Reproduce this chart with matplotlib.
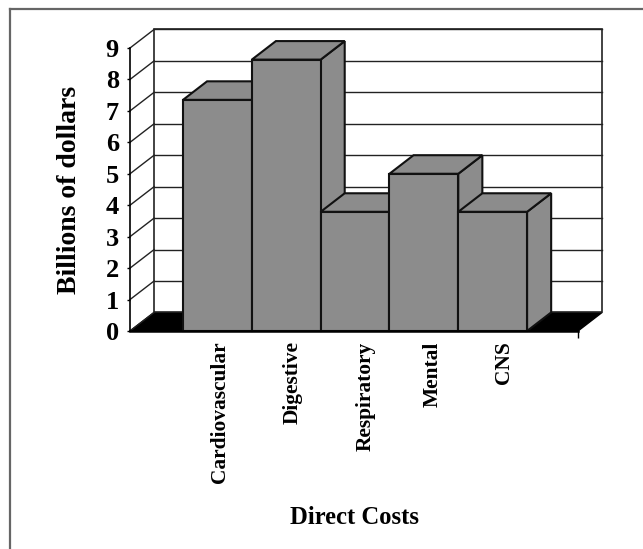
import matplotlib
matplotlib.use('Agg')
import matplotlib.pyplot as plt
from matplotlib.patches import Polygon

categories = ['Cardiovascular', 'Digestive', 'Respiratory', 'Mental', 'CNS']
costs = [7.35, 8.63, 3.79, 5.0, 3.79]
yticks = [0, 1, 2, 3, 4, 5, 6, 7, 8, 9]

W, H = 643, 549
GREY = '#8c8c8c'
# oblique depth of the fake 3d, in data units
DX = 0.35
DY = 0.59

plt.rcParams['font.family'] = ['Liberation Serif']
fig = plt.figure(figsize=(W / 100, H / 100), dpi=100)
ax = fig.add_axes([130 / W, 1 - 331 / H, 448 / W, 283 / H])
ax.set_xlim(-0.77, 5.74)
ax.set_ylim(0, 9)
xmin, xmax = ax.get_xlim()

# back wall and floor
ax.add_patch(Polygon([(xmin, 0), (xmin + DX, DY), (xmax + DX, DY), (xmax, 0)], closed=True,
                     fc='black', ec='black', lw=1, clip_on=False, zorder=1))
ax.add_patch(Polygon([(xmin + DX, DY), (xmin + DX, 9 + DY), (xmax + DX, 9 + DY), (xmax + DX, DY)],
                     closed=True, fc='white', ec='#222222', lw=1.2, clip_on=False, zorder=1))
for t in yticks[1:]:
    ax.plot([xmin, xmin + DX], [t, t + DY], color='#222222', lw=1, clip_on=False, zorder=1)
    ax.plot([xmin + DX, xmax + DX], [t + DY, t + DY], color='#222222', lw=1, clip_on=False, zorder=1)
ax.plot([xmin, xmin + DX], [0, DY], color='#222222', lw=1, clip_on=False, zorder=1)

# bars, left to right so each one hides the side of the one before
for i, v in enumerate(costs):
    side = [(i + 1, 0), (i + 1 + DX, DY), (i + 1 + DX, v + DY), (i + 1, v)]
    top = [(i, v), (i + DX, v + DY), (i + 1 + DX, v + DY), (i + 1, v)]
    front = [(i, 0), (i, v), (i + 1, v), (i + 1, 0)]
    z = 2 + i * 0.1
    for pts in (side, top, front):
        ax.add_patch(Polygon(pts, closed=True, fc=GREY, ec='#111111', lw=1.5,
                             clip_on=False, zorder=z))

for s in ('top', 'right'):
    ax.spines[s].set_visible(False)
ax.spines['left'].set_linewidth(1.2)
ax.spines['bottom'].set_linewidth(1.8)
ax.spines['left'].set_zorder(5)
ax.spines['bottom'].set_zorder(5)

ax.set_yticks(yticks)
ax.set_yticklabels([str(t) for t in yticks], fontsize=19, fontweight='bold')
ax.tick_params(axis='y', length=2, width=1, pad=6)

# labels sit a bit right of the bar centres in the original
ax.set_xticks([i + 0.5 + o for i, o in enumerate([0.04, 0.09, 0.16, 0.13, 0.16])])
ax.set_xticklabels(categories, rotation=90, fontsize=15.4, fontweight='bold')
ax.tick_params(axis='x', length=0, pad=7.5)
ax.set_xticks([xmax], minor=True)
ax.tick_params(axis='x', which='minor', length=5, width=1)

ax.set_ylabel('Billions of dollars', fontsize=20, fontweight='bold')
ax.yaxis.set_label_coords(-0.107, 0.5)
fig.text(354 / W, 1 - 518 / H, 'Direct Costs', fontsize=17.7, fontweight='bold',
         ha='center', va='center')

# frame, only top and left are in the scan
fig.add_artist(plt.Line2D([10 / W, 10 / W], [0, 1 - 9 / H], color='#666666', lw=1.6))
fig.add_artist(plt.Line2D([10 / W, 1], [1 - 9 / H, 1 - 9 / H], color='#666666', lw=1.6))

fig.savefig('out.png', dpi=100)
